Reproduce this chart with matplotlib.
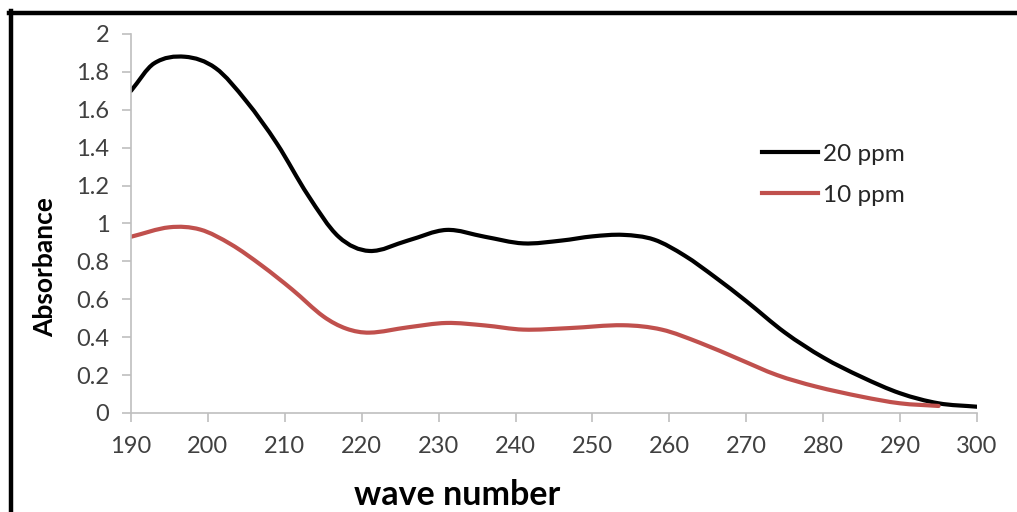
import numpy as np
import matplotlib
matplotlib.use("Agg")
import matplotlib.pyplot as plt
from matplotlib.path import Path
from matplotlib.patches import PathPatch
from matplotlib.lines import Line2D

# Absorbance spectra of the two solutions
wavelength_20 = [190, 193, 197, 201, 205, 209, 213, 217, 221, 226, 231, 236, 241, 246,
                 250, 254, 258, 262, 266, 270, 275, 280, 285, 290, 295, 300]
absorb_20 = [1.70, 1.845, 1.88, 1.82, 1.645, 1.42, 1.15, 0.93, 0.855, 0.91, 0.966, 0.93,
             0.895, 0.91, 0.932, 0.94, 0.915, 0.83, 0.715, 0.59, 0.425, 0.293, 0.19,
             0.104, 0.051, 0.033]

wavelength_10 = [190, 195, 199, 203, 207, 211, 215, 218, 221, 226, 231, 236, 241, 247,
                 254, 259, 264, 269, 274, 279, 285, 290, 295]
absorb_10 = [0.93, 0.98, 0.968, 0.89, 0.778, 0.65, 0.51, 0.445, 0.424, 0.452, 0.475,
             0.462, 0.44, 0.448, 0.463, 0.44, 0.37, 0.285, 0.20, 0.14, 0.086, 0.051, 0.037]

series_labels = ["20 ppm", "10 ppm"]
series_colors = ["#000000", "#c0504d"]
x_ticks = list(range(190, 301, 10))
y_ticks = [0, 0.2, 0.4, 0.6, 0.8, 1, 1.2, 1.4, 1.6, 1.8, 2]
y_tick_labels = ["0", "0.2", "0.4", "0.6", "0.8", "1", "1.2", "1.4", "1.6", "1.8", "2"]

plt.rcParams["font.family"] = ["Lato", "DejaVu Sans"]


def smooth_path(xs, ys):
    """Piecewise cubic Hermite curve through the points, as Bezier segments."""
    xs = np.asarray(xs, float)
    ys = np.asarray(ys, float)
    n = len(xs)
    slopes = np.empty(n)
    slopes[0] = (ys[1] - ys[0]) / (xs[1] - xs[0])
    slopes[-1] = (ys[-1] - ys[-2]) / (xs[-1] - xs[-2])
    slopes[1:-1] = (ys[2:] - ys[:-2]) / (xs[2:] - xs[:-2])
    verts = [(xs[0], ys[0])]
    codes = [Path.MOVETO]
    for i in range(n - 1):
        h = xs[i + 1] - xs[i]
        verts += [(xs[i] + h / 3, ys[i] + slopes[i] * h / 3),
                  (xs[i + 1] - h / 3, ys[i + 1] - slopes[i + 1] * h / 3),
                  (xs[i + 1], ys[i + 1])]
        codes += [Path.CURVE4] * 3
    return Path(verts, codes)


fig = plt.figure(figsize=(10.17, 5.12), dpi=100)
ax = fig.add_axes([0.1288, 0.1934, 0.8319, 0.7402])

for xs, ys, col in zip([wavelength_20, wavelength_10], [absorb_20, absorb_10], series_colors):
    patch = PathPatch(smooth_path(xs, ys), facecolor="none", edgecolor=col,
                      lw=3.0, capstyle="round", joinstyle="round", transform=ax.transData)
    ax.add_patch(patch)

ax.set_xlim(190, 300)
ax.set_ylim(0, 2)
ax.set_xticks(x_ticks)
ax.set_yticks(y_ticks)
ax.set_yticklabels(y_tick_labels)

for side in ["top", "right"]:
    ax.spines[side].set_visible(False)
for side in ["left", "bottom"]:
    ax.spines[side].set_color("#bfbfbf")
    ax.spines[side].set_linewidth(1.2)
ax.tick_params(axis="both", direction="out", length=6.5, width=1.2, color="#bfbfbf",
               labelsize=17, labelcolor="#404040")
ax.tick_params(axis="x", pad=10)
ax.tick_params(axis="y", pad=9)

ax.set_xlabel("wave number", fontsize=24.5, fontweight="bold", color="black", va="center")
ax.xaxis.set_label_coords(0.385, -0.216)
ax.set_ylabel("Absorbance", fontsize=19, fontweight="bold", color="black", va="center")
ax.yaxis.set_label_coords(-0.1017, 0.385)

handles = [Line2D([0], [0], color=c, lw=3.0) for c in series_colors]
ax.legend(handles, series_labels, loc="upper left", bbox_to_anchor=(0.746, 0.711),
          frameon=False, fontsize=17.5, handlelength=2.3, handletextpad=0.2,
          labelspacing=0.83, borderpad=0, borderaxespad=0, labelcolor="#262626")

# Outer frame lines along the top and left edges
fig.add_artist(Line2D([0.0088, 1.0], [1 - 12.5 / 512, 1 - 12.5 / 512], color="black",
                      lw=3.2, transform=fig.transFigure))
fig.add_artist(Line2D([10.5 / 1017, 10.5 / 1017], [0.0, 1 - 11 / 512], color="black",
                      lw=3.2, transform=fig.transFigure))

fig.savefig("out.png", dpi=100)
